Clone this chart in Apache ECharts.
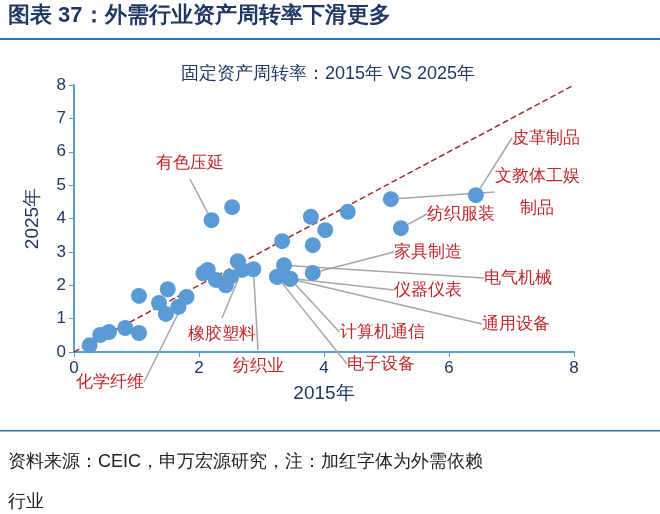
<!DOCTYPE html><html><head><meta charset="utf-8"><script src="https://cdn.jsdelivr.net/npm/echarts@6/dist/echarts.min.js"></script>
<style>body{margin:0}#c{width:660px;height:514px}</style></head><body><div id="c"></div><script>
const x2015=[0.25,0.42,0.56,0.82,1.04,1.04,1.36,1.47,1.5,1.67,1.8,2.07,2.14,2.2,2.53,2.27,2.43,2.5,2.62,2.69,2.87,3.25,3.46,3.36,3.33,3.82,3.82,3.79,4.02,4.38,5.07,6.43,5.23,3.46,3.25];
const y2025=[0.2,0.51,0.6,0.72,0.57,1.68,1.47,1.14,1.88,1.35,1.65,2.36,2.46,3.95,4.34,2.16,2.0,2.25,2.72,2.46,2.48,2.25,2.19,2.6,3.32,2.37,3.2,4.05,3.65,4.2,4.58,4.7,3.71,2.19,2.25];
const names=['','','','','','','','','','','化学纤维','','','有色压延','','','','','','橡胶塑料','纺织业','仪器仪表','通用设备','电气机械','','家具制造','','','','','文教体工娱\n制品','皮革制品','纺织服装','计算机通信','电子设备'];
const labelPos={'化学纤维':[110,382],'有色压延':[190,163],'橡胶塑料':[222,334],'纺织业':[258,366],'仪器仪表':[428,290],'通用设备':[516,324],'电气机械':[518,278],'家具制造':[428,252],'文教体工娱\n制品':[537,192],'皮革制品':[546,138],'纺织服装':[461,214],'计算机通信':[382,332],'电子设备':[381,364]};
const red='#C0282B';
const data=x2015.map((x,i)=>{const o={value:[x,y2025[i]]};const n=names[i];if(n){o.label={show:true,formatter:n,color:red,fontSize:17,lineHeight:32,align:'center'};o.labelLine={show:true,lineStyle:{color:'#A6A6A6',width:1.5}};}return o;});
const ax='#1F3864';
const ch=echarts.init(document.getElementById('c'));
ch.setOption({animation:false,
title:{text:'固定资产周转率：2015年 VS 2025年',left:323,top:60,textAlign:'center',textStyle:{color:ax,fontSize:18,fontWeight:'normal'}},
graphic:[{type:'text',left:8,top:5,style:{text:'图表 37：外需行业资产周转率下滑更多',fontSize:22,fontWeight:'bold',fill:'#1F3864'}},
{type:'rect',shape:{x:0,y:38,width:660,height:2},style:{fill:'#2E75B6'}},
{type:'rect',shape:{x:0,y:430,width:660,height:1.5},style:{fill:'#2E75B6'}},
{type:'text',left:8,top:442,style:{text:'资料来源：CEIC，申万宏源研究，注：加红字体为外需依赖\n行业',fontSize:18,lineHeight:40,fill:'#222'}}],
grid:{left:74,right:86,top:85,bottom:162},
xAxis:{type:'value',min:0,max:8,interval:2,name:'2015年',nameLocation:'middle',nameGap:32,nameTextStyle:{color:ax,fontSize:19},axisLine:{show:true,lineStyle:{color:'#5B9BD5',width:2}},axisTick:{show:true,lineStyle:{color:'#5B9BD5'}},axisLabel:{color:ax,fontSize:17},splitLine:{show:false}},
yAxis:{type:'value',min:0,max:8,interval:1,name:'2025年',nameLocation:'middle',nameGap:32,nameTextStyle:{color:ax,fontSize:19},axisLine:{show:true,lineStyle:{color:'#5B9BD5',width:2}},axisTick:{show:true,lineStyle:{color:'#5B9BD5'}},axisLabel:{color:ax,fontSize:17},splitLine:{show:false}},
series:[{type:'line',data:[[0,0],[8,8]],symbol:'none',lineStyle:{color:'#A52A2A',type:'dashed',width:1.5},z:1},
{type:'scatter',data:data,symbolSize:16,itemStyle:{color:'#5B9BD5',opacity:1},z:3,
labelLayout:function(p){const n=names[p.dataIndex];if(!n)return {};const q=labelPos[n];return {x:q[0],y:q[1],align:'center',verticalAlign:'middle'};}}]});
</script></body></html>
